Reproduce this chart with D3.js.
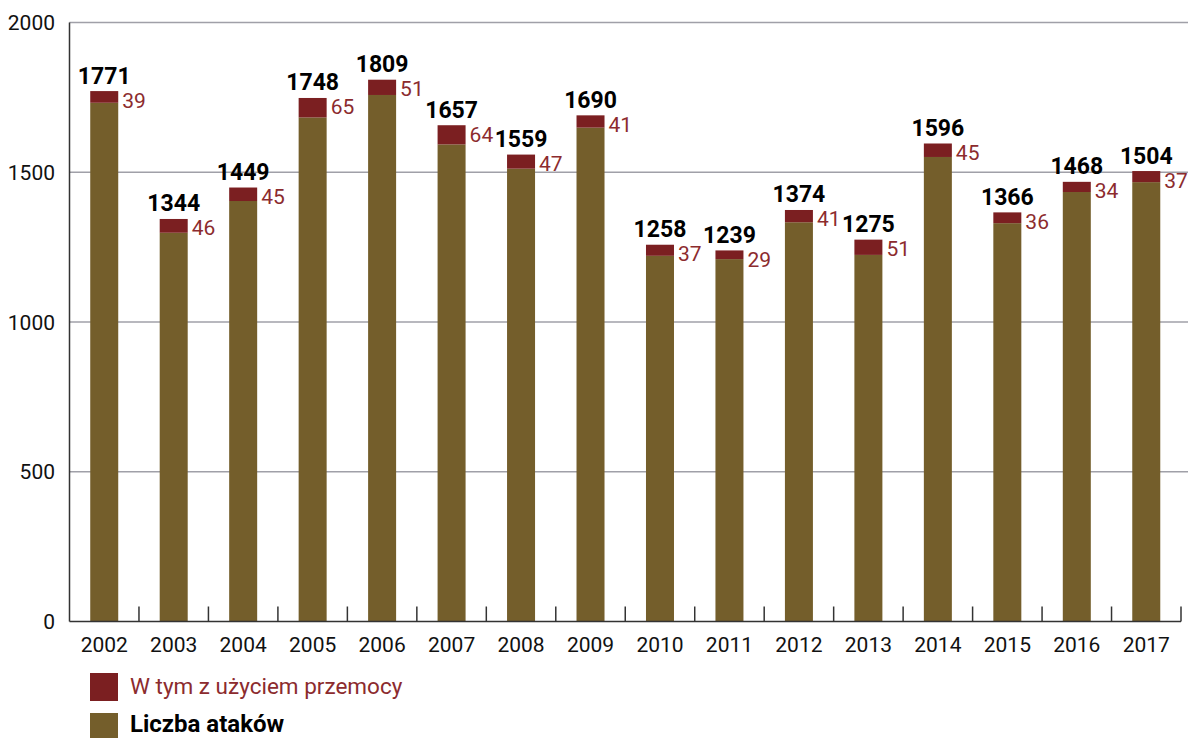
<!DOCTYPE html>
<html>
<head>
<meta charset="utf-8">
<script src="https://cdn.jsdelivr.net/npm/d3@7"></script>
<style>
body { margin: 0; background: #fff; }
text { font-family: Roboto, "Liberation Sans", sans-serif; }
</style>
</head>
<body>
<svg id="view"></svg>
<script>
var years = ["2002","2003","2004","2005","2006","2007","2008","2009","2010","2011","2012","2013","2014","2015","2016","2017"];
var totals = [1771,1344,1449,1748,1809,1657,1559,1690,1258,1239,1374,1275,1596,1366,1468,1504];
var violent = [39,46,45,65,51,64,47,41,37,29,41,51,45,36,34,37];
var yTicks = [0,500,1000,1500,2000];
var legendLabels = ["W tym z użyciem przemocy","Liczba ataków"];

var width = 1188, height = 738;
var brown = "#745e2b", red = "#7b1f21", redText = "#8c2b2e";

var svg = d3.select("#view")
	.attr("width", width)
	.attr("height", height)
	.attr("viewBox", [0, 0, width, height]);

var left = 69.5, right = 1181;
var x = d3.scaleBand().domain(years).range([left, right]).paddingInner(0);
var y = d3.scaleLinear().domain([0, 2000]).range([621.5, 22.5]);
var barW = 28;

// gridlines
svg.append("g").selectAll("line")
	.data(yTicks.filter(d => d > 0))
	.join("line")
	.attr("x1", left).attr("x2", width)
	.attr("y1", d => y(d)).attr("y2", d => y(d))
	.attr("stroke", "#a0a0a8").attr("stroke-width", 1.3);

// y labels
svg.append("g").selectAll("text")
	.data(yTicks)
	.join("text")
	.attr("x", 55).attr("y", d => y(d))
	.attr("dy", "0.36em")
	.attr("text-anchor", "end")
	.attr("font-size", 21)
	.attr("fill", "#111")
	.text(d => d);

var data = years.map((yr, i) => ({ year: yr, total: totals[i], violent: violent[i] }));

var bars = svg.append("g").selectAll("g")
	.data(data)
	.join("g")
	.attr("transform", d => "translate(" + (x(d.year) + x.bandwidth()/2 - barW/2) + ",0)");

bars.append("rect")
	.attr("y", d => y(d.total - d.violent))
	.attr("height", d => y(0) - y(d.total - d.violent))
	.attr("width", barW)
	.attr("fill", brown);

bars.append("rect")
	.attr("y", d => y(d.total))
	.attr("height", d => y(d.total - d.violent) - y(d.total))
	.attr("width", barW)
	.attr("fill", red);

bars.append("text")
	.attr("x", barW/2)
	.attr("y", d => y(d.total) - 7.5)
	.attr("text-anchor", "middle")
	.attr("font-size", 23)
	.attr("font-weight", "bold")
	.attr("fill", "#000")
	.text(d => d.total);

bars.append("text")
	.attr("x", barW + 4)
	.attr("y", d => y(d.total) + 16.5)
	.attr("font-size", 21)
	.attr("fill", redText)
	.text(d => d.violent);

// axes
var axis = svg.append("g").attr("stroke", "#333").attr("stroke-width", 1.5);
axis.append("line").attr("x1", left).attr("x2", left).attr("y1", y(2000)).attr("y2", y(0));
axis.append("line").attr("x1", left).attr("x2", right).attr("y1", y(0)).attr("y2", y(0));
axis.selectAll("line.tick")
	.data(years.slice(1).concat(["end"]))
	.join("line")
	.attr("class", "tick")
	.attr("x1", d => d == "end" ? right : x(d))
	.attr("x2", d => d == "end" ? right : x(d))
	.attr("y1", y(0)).attr("y2", y(0) - 15);

svg.append("g").selectAll("text")
	.data(years)
	.join("text")
	.attr("x", d => x(d) + x.bandwidth()/2)
	.attr("y", 652)
	.attr("text-anchor", "middle")
	.attr("font-size", 21)
	.attr("fill", "#111")
	.text(d => d);

// legend
var legend = svg.append("g").selectAll("g")
	.data(legendLabels)
	.join("g")
	.attr("transform", (d, i) => "translate(90," + (673 + i * 40) + ")");
legend.append("rect")
	.attr("width", 28).attr("height", 28)
	.attr("fill", (d, i) => i == 0 ? red : brown);
legend.append("text")
	.attr("x", 40).attr("y", (d, i) => i == 0 ? 21 : 18.5)
	.attr("font-size", (d, i) => i == 0 ? 22.5 : 24)
	.attr("font-weight", (d, i) => i == 0 ? "normal" : "bold")
	.attr("fill", (d, i) => i == 0 ? redText : "#000")
	.text(d => d);
</script>
</body>
</html>
